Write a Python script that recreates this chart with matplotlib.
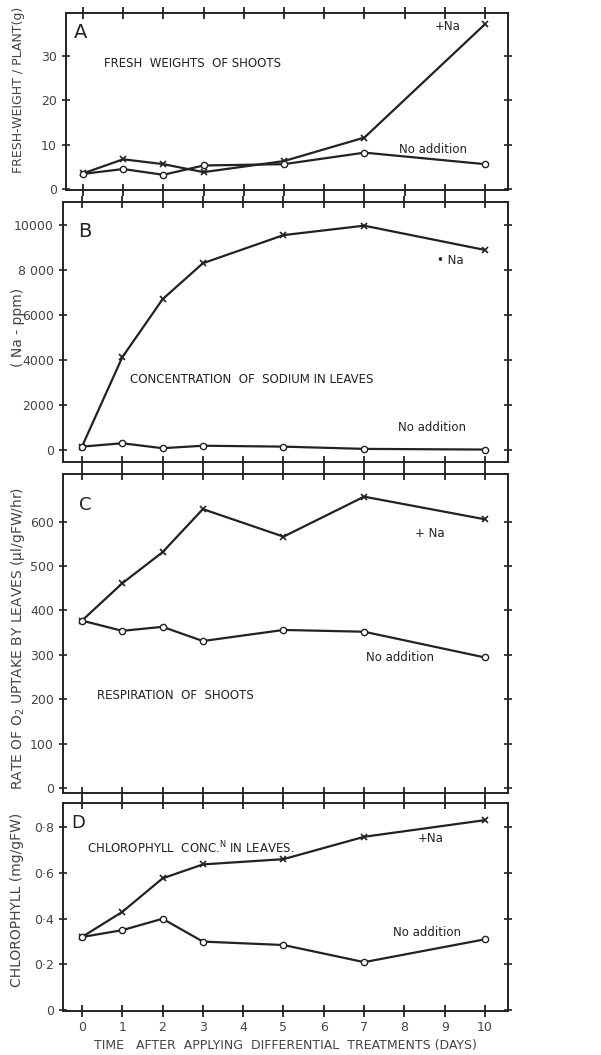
'''growth responses to sodium, four stacked panels'''
import matplotlib
matplotlib.use('Agg')
import matplotlib.pyplot as plt

days = [0, 1, 2, 3, 5, 7, 10]

fresh_na = [3.5, 6.7, 5.6, 3.8, 6.3, 11.6, 37.2]
fresh_no = [3.4, 4.5, 3.2, 5.3, 5.6, 8.2, 5.6]

sodium_na = [150, 4120, 6700, 8300, 9550, 9970, 8890]
sodium_no = [150, 300, 80, 190, 150, 50, 20]

resp_na = [377, 461, 531, 628, 566, 656, 605]
resp_no = [377, 354, 363, 331, 356, 352, 294]

chl_na = [0.32, 0.43, 0.577, 0.638, 0.661, 0.759, 0.832]
chl_no = [0.32, 0.35, 0.40, 0.30, 0.285, 0.21, 0.31]

ticks_a = [0, 10, 20, 30]
ticks_b = [0, 2000, 4000, 6000, 8000, 10000]
labels_b = ['0', '2000', '4000', '6000', '8 000', '10000']
ticks_c = [0, 100, 200, 300, 400, 500, 600]
ticks_d = [0, 0.2, 0.4, 0.6, 0.8]
labels_d = ['0', '0\u00b72', '0\u00b74', '0\u00b76', '0\u00b78']
day_ticks = list(range(0, 11))

plt.rcParams['font.family'] = ['DejaVu Sans']
INK = '#222222'
GREY = '#444444'
W, H = 601, 1055
fig = plt.figure(figsize=(W / 100, H / 100), dpi=100)


def make_axes(top, bottom, left=63, right=508):
    ax = fig.add_axes([left / W, 1 - bottom / H, (right - left) / W, (bottom - top) / H])
    for s in ax.spines.values():
        s.set_linewidth(1.4)
        s.set_color(INK)
    ax.set_xlim(-0.47, 10.57)
    ax.set_xticks(day_ticks)
    ax.tick_params(axis='x', direction='inout', length=8, width=1.3, top=True,
                   labelbottom=False, colors=INK)
    ax.tick_params(axis='y', direction='inout', length=6, width=1.2, right=True,
                   labelsize=9, colors=INK, labelcolor=GREY)
    return ax


def draw_series(ax, y_na, y_no):
    ax.plot(days, y_na, color=INK, lw=1.6, marker='x', ms=4, mew=1.2)
    ax.plot(days, y_no, color=INK, lw=1.6, marker='o', ms=4.5, mew=1.0,
            mfc='white')


def side_label(text, x_px, y_px, size=10):
    fig.text(x_px / W, 1 - y_px / H, text, rotation=90, ha='center', va='center',
             fontsize=size, color=GREY)


# A
ax = make_axes(13, 190, left=66)
draw_series(ax, fresh_na, fresh_no)
ax.set_xlim(-0.42, 10.57)
ax.set_ylim(-0.23, 39.7)
ax.set_yticks(ticks_a)
side_label('FRESH-WEIGHT / PLANT(g)', 19, 90, size=9)
ax.text(-0.05, 35.2, 'A', fontsize=14, ha='center', va='center', color=INK)
ax.text(0.52, 28.4, 'FRESH  WEIGHTS  OF SHOOTS', fontsize=8.5, va='center', color=INK)
ax.text(9.06, 36.6, '+Na', fontsize=8.5, ha='center', va='center', color=INK)
ax.text(8.7, 9.0, 'No addition', fontsize=8.5, ha='center', va='center', color=INK)

# B
ax = make_axes(202, 462)
draw_series(ax, sodium_na, sodium_no)
ax.set_ylim(-533, 11022)
ax.set_yticks(ticks_b)
ax.set_yticklabels(labels_b)
side_label('( Na - ppm)', 18, 327)
ax.text(0.07, 9690, 'B', fontsize=14, ha='center', va='center', color=INK)
ax.text(9.13, 8440, '\u2022 Na', fontsize=8.5, ha='center', va='center', color=INK)
ax.text(1.19, 3155, 'CONCENTRATION  OF  SODIUM IN LEAVES', fontsize=8.5,
        va='center', color=INK)
ax.text(8.68, 980, 'No addition', fontsize=8.5, ha='center', va='center', color=INK)

# C
ax = make_axes(474, 793)
draw_series(ax, resp_na, resp_no)
ax.set_ylim(-11, 707)
ax.set_yticks(ticks_c)
side_label(r'RATE OF O$_2$ UPTAKE BY LEAVES (µl/gFW/hr)', 18, 638)
ax.text(0.07, 637, 'C', fontsize=13, ha='center', va='center', color=INK)
ax.text(8.64, 574, '+ Na', fontsize=8.5, ha='center', va='center', color=INK)
ax.text(7.9, 295, 'No addition', fontsize=8.5, ha='center', va='center', color=INK)
ax.text(0.37, 209, 'RESPIRATION  OF  SHOOTS', fontsize=8.5, va='center', color=INK)

# D
ax = make_axes(803, 1011)
draw_series(ax, chl_na, chl_no)
ax.set_ylim(-0.004, 0.907)
ax.set_yticks(ticks_d)
ax.set_yticklabels(labels_d)
ax.tick_params(axis='x', labelbottom=True, labelsize=9, labelcolor=GREY)
side_label('CHLOROPHYLL (mg/gFW)', 17, 900)
ax.set_xlabel('TIME   AFTER  APPLYING  DIFFERENTIAL  TREATMENTS (DAYS)',
              fontsize=9, color=GREY, labelpad=3)
ax.text(-0.1, 0.82, 'D', fontsize=13, ha='center', va='center', color=INK)
ax.text(0.12, 0.71, r'CHLOROPHYLL  CONC.$^{\rm N}$ IN LEAVES.', fontsize=8.5,
        va='center', color=INK)
ax.text(8.64, 0.753, '+Na', fontsize=8.5, ha='center', va='center', color=INK)
ax.text(8.56, 0.342, 'No addition', fontsize=8.5, ha='center', va='center', color=INK)

fig.savefig('out.png', dpi=100)
